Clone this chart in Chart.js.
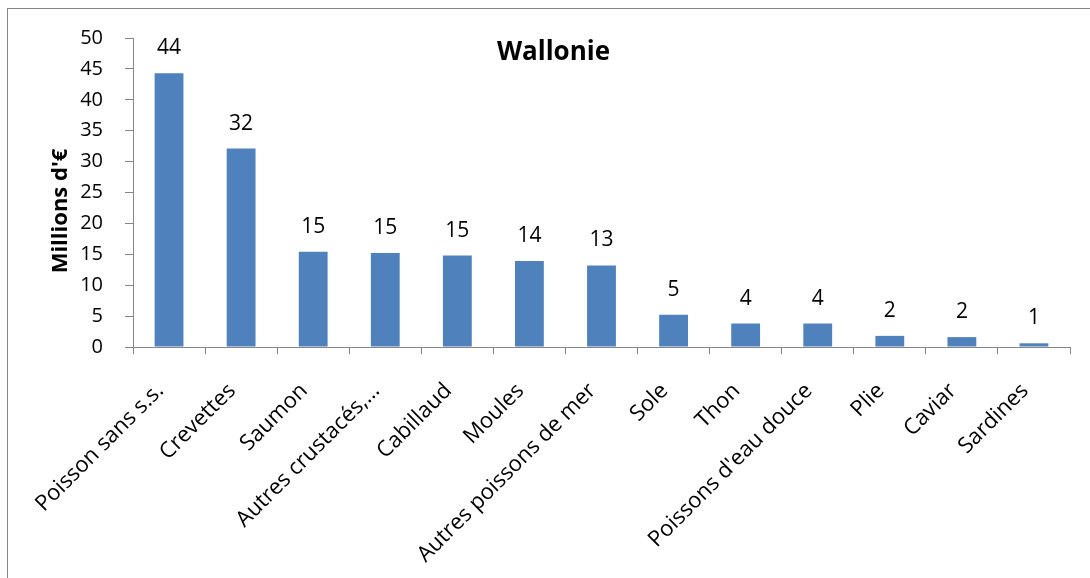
<!DOCTYPE html>
<html>
<head>
<meta charset="utf-8">
<script src="https://cdn.jsdelivr.net/npm/chart.js@4.4.0/dist/chart.umd.min.js"></script>
<style>
html,body{margin:0;padding:0;background:#fff;}
#cadre{position:absolute;left:7px;top:8px;width:1083px;height:570px;border-top:1px solid #868686;border-left:1px solid #868686;}
#zone{position:absolute;left:0;top:0;width:1090px;height:578px;}
</style>
</head>
<body>
<div id="cadre"></div>
<div id="zone"><canvas id="graphique"></canvas></div>
<script>
const categories = ["Poisson sans s.s.","Crevettes","Saumon","Autres crustacés,…","Cabillaud","Moules","Autres poissons de mer","Sole","Thon","Poissons d'eau douce","Plie","Caviar","Sardines"];
const valeurs = [44.3, 32.1, 15.4, 15.2, 14.8, 13.9, 13.2, 5.2, 3.8, 3.8, 1.8, 1.6, 0.6];
const titre = "Wallonie";
const titreY = "Millions d'€";
const gris = "#868686";
const bleu = "#4F81BD";

const etiquettes = {
    id:'etiquettes',
    afterDatasetsDraw(chart){
        const ctx = chart.ctx;
        const zone = chart.chartArea;
        ctx.save();
        ctx.fillStyle = "#000";
        ctx.textAlign = "center";
        ctx.textBaseline = "alphabetic";
        ctx.font = '21px "Open Sans"';
        chart.getDatasetMeta(0).data.forEach((barre,i)=>{
            ctx.fillText(Math.round(valeurs[i]), barre.x, barre.y - 19);
        });
        // titre du graphique
        ctx.font = 'bold 26px "Open Sans"';
        ctx.fillText(titre, (zone.left + zone.right)/2 - 48, zone.top + 22);
        // titre de l'axe Y
        ctx.font = 'bold 22px "Open Sans"';
        ctx.translate(67, 211);
        ctx.rotate(-Math.PI/2);
        ctx.fillText(titreY, 0, 0);
        ctx.restore();
    }
};

new Chart(document.getElementById("graphique"), {
    type:'bar',
    data:{
        labels:categories,
        datasets:[{
            data:valeurs,
            backgroundColor:bleu,
            borderWidth:0,
            categoryPercentage:1,
            barPercentage:0.4
        }]
    },
    options:{
        responsive:true,
        maintainAspectRatio:false,
        animation:false,
        layout:{padding:{left:0,top:38,right:20,bottom:0}},
        plugins:{legend:{display:false},tooltip:{enabled:false},title:{display:false}},
        scales:{
            x:{
                grid:{drawOnChartArea:false,drawTicks:true,tickLength:7,color:gris,offset:true},
                border:{color:gris,width:1},
                ticks:{color:"#000",font:{family:"Open Sans",size:22},maxRotation:45,minRotation:45,padding:24,labelOffset:-9,autoSkip:false},
                afterFit(scale){ scale.height = 231; }
            },
            y:{
                min:0,
                max:50,
                grid:{drawOnChartArea:false,drawTicks:true,tickLength:8,color:gris},
                border:{color:gris,width:1},
                ticks:{stepSize:5,color:"#000",font:{family:"Open Sans",size:20},padding:22},
                afterFit(scale){ scale.width = 133; }
            }
        }
    },
    plugins:[etiquettes]
});
</script>
</body>
</html>
